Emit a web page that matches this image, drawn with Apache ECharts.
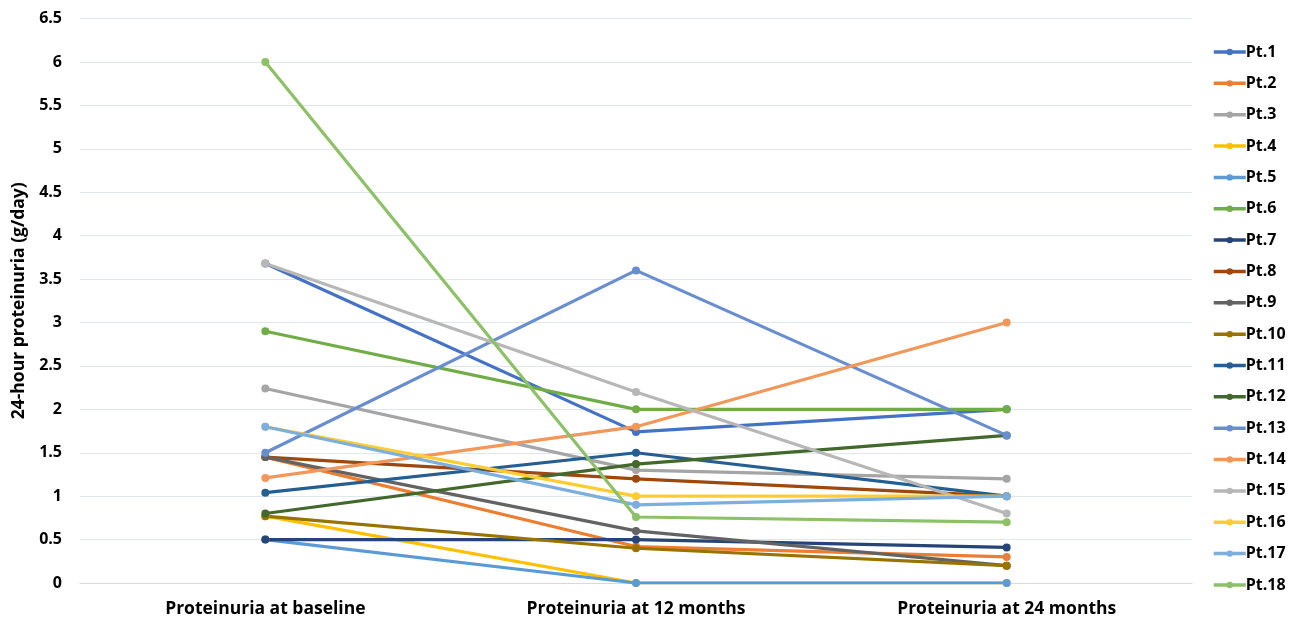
<!DOCTYPE html>
<html>
<head>
<meta charset="utf-8">
<script src="https://cdn.jsdelivr.net/npm/echarts@6/dist/echarts.min.js"></script>
<style>
html,body{margin:0;padding:0;background:#fff;}
#chart{width:1297px;height:623px;}
</style>
</head>
<body>
<div id="chart"></div>
<script>
const categories = ['Proteinuria at baseline', 'Proteinuria at 12 months', 'Proteinuria at 24 months'];
const yTicks = [0, 0.5, 1, 1.5, 2, 2.5, 3, 3.5, 4, 4.5, 5, 5.5, 6, 6.5];
const seriesNames = ['Pt.1','Pt.2','Pt.3','Pt.4','Pt.5','Pt.6','Pt.7','Pt.8','Pt.9','Pt.10','Pt.11','Pt.12','Pt.13','Pt.14','Pt.15','Pt.16','Pt.17','Pt.18'];
const pt1 = [3.68, 1.74, 2.0];
const pt2 = [1.45, 0.42, 0.3];
const pt3 = [2.24, 1.3, 1.2];
const pt4 = [0.77, 0, 0];
const pt5 = [0.5, 0, 0];
const pt6 = [2.9, 2.0, 2.0];
const pt7 = [0.5, 0.5, 0.41];
const pt8 = [1.45, 1.2, 1.0];
const pt9 = [1.45, 0.6, 0.2];
const pt10 = [0.77, 0.4, 0.2];
const pt11 = [1.04, 1.5, 1.0];
const pt12 = [0.8, 1.37, 1.7];
const pt13 = [1.5, 3.6, 1.7];
const pt14 = [1.21, 1.8, 3.0];
const pt15 = [3.68, 2.2, 0.8];
const pt16 = [1.8, 1.0, 1.0];
const pt17 = [1.8, 0.9, 1.0];
const pt18 = [6.0, 0.76, 0.7];
const seriesValues = [pt1,pt2,pt3,pt4,pt5,pt6,pt7,pt8,pt9,pt10,pt11,pt12,pt13,pt14,pt15,pt16,pt17,pt18];
const colors = ['#4472C4','#ED7D31','#A5A5A5','#FFC000','#5B9BD5','#70AD47','#264478','#9E480E','#636363','#997300','#255E91','#43682B','#698ED0','#F1975A','#B7B7B7','#FFCD33','#7CAFDD','#8CC168'];

const chart = echarts.init(document.getElementById('chart'));
const font = '"Open Sans", "Noto Sans", sans-serif';
chart.setOption({
  animation: false,
  color: colors,
  textStyle: {fontFamily: font},
  grid: {left: 80, right: 105, top: 18.6, bottom: 40, containLabel: false},
  legend: {
    orient: 'vertical',
    left: 1207,
    top: 39,
    itemGap: 15.35,
    itemWidth: 32,
    itemHeight: 8,
    data: seriesNames,
    lineStyle: {width: 3.5},
    textStyle: {fontFamily: font, fontWeight: 'bold', fontSize: 16, lineHeight: 16, color: '#000', padding: [0,0,0,-5]}
  },
  xAxis: {
    type: 'category',
    data: categories,
    boundaryGap: true,
    axisLine: {lineStyle: {color: '#d9d9d9', width: 1}},
    axisTick: {show: false},
    axisLabel: {fontFamily: font, fontWeight: 'bold', fontSize: 17.5, color: '#000', margin: 17}
  },
  yAxis: {
    type: 'value',
    min: 0,
    max: 6.5,
    interval: 0.5,
    name: '24-hour proteinuria (g/day)',
    nameLocation: 'middle',
    nameGap: 48,
    nameTextStyle: {fontFamily: font, fontWeight: 'bold', fontSize: 17.5, color: '#000'},
    axisLine: {show: false},
    axisTick: {show: false},
    splitLine: {lineStyle: {color: '#dfe6ec', width: 1}},
    axisLabel: {
      fontFamily: font, fontWeight: 'bold', fontSize: 16, color: '#000', margin: 18,
      formatter: v => yTicks.includes(v) ? String(v) : ''
    }
  },
  series: seriesNames.map((n, i) => ({
    name: n,
    type: 'line',
    data: seriesValues[i],
    symbol: 'circle',
    symbolSize: 8,
    lineStyle: {width: 3.2},
    itemStyle: {color: colors[i]}
  }))
});
</script>
</body>
</html>
